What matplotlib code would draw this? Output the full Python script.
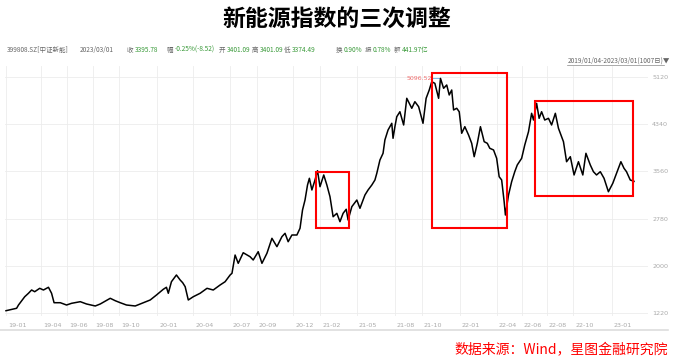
import matplotlib
matplotlib.use("Agg")
import matplotlib.pyplot as plt
from matplotlib.patches import Rectangle
from matplotlib.lines import Line2D

plt.rcParams['font.family'] = ['Noto Sans CJK SC', 'DejaVu Sans']

# ---- data (trading-day index from 2019/01/04, index close) ----
day_idx = [0,17,20,30,36,41,46,54,60,68,
           73,77,87,97,105,119,129,143,151,167,
           175,183,193,207,215,231,241,252,257,260,
           265,273,279,283,287,292,300,311,322,332,
           343,351,359,362,367,372,380,391,396,404,
           410,418,426,434,442,447,452,458,466,471,
           475,479,483,486,490,495,499,503,509,514,
           519,524,530,535,540,545,548,554,562,567,
           575,580,586,591,594,599,604,607,612,618,
           620,623,626,631,637,642,650,655,661,668,
           673,678,682,687,693,696,701,706,710,714,
           717,722,726,730,735,741,746,750,755,760,
           766,771,775,781,786,790,794,798,800,805,
           810,815,819,826,831,837,842,845,850,854,
           858,863,869,874,880,885,893,898,904,910,
           917,924,929,936,941,946,952,958,965,972,
           978,985,990,994,1000,1006]
close = [1258,1298,1352,1489,1546,1600,1572,1628,1600,1645,
         1546,1390,1390,1352,1380,1407,1369,1336,1369,1463,
         1423,1390,1352,1336,1369,1435,1517,1612,1645,1546,
         1737,1848,1765,1721,1655,1435,1489,1546,1628,1600,
         1683,1737,1848,1876,2178,2041,2216,2150,2096,2233,
         2041,2207,2454,2316,2481,2537,2398,2509,2509,2620,
         2922,3087,3335,3446,3253,3418,3572,3307,3501,3335,
         3142,2811,2867,2729,2867,2934,2757,2977,3087,2950,
         3170,3253,3335,3418,3529,3748,3859,4081,4244,4355,
         4107,4299,4464,4546,4327,4768,4603,4712,4629,4355,
         4768,4905,5042,5015,4768,5096.52,4933,4988,4823,4905,
         4575,4603,4546,4190,4299,4161,4024,3803,4024,4299,
         4051,4024,3942,3914,3776,3472,3418,3059,2839,3170,
         3390,3555,3666,3776,3996,4216,4520,4409,4685,4437,
         4546,4409,4437,4327,4520,4272,4051,3720,3803,3501,
         3720,3501,3859,3666,3555,3501,3555,3446,3224,3363,
         3529,3720,3611,3555,3418,3395.78]

tick_idx = [0, 56, 98, 139, 181, 242, 300, 359, 402, 460, 503,
            562, 623, 666, 727, 786, 826, 866, 909, 970]
tick_labels = ['19-01', '19-04', '19-06', '19-08', '19-10', '20-01', '20-04',
               '20-07', '20-09', '20-12', '21-02', '21-05', '21-08', '21-10',
               '22-01', '22-04', '22-06', '22-08', '22-10', '23-01']
y_ticks = [1220, 2000, 2780, 3560, 4340, 5120]

# highlighted adjustment phases: (start idx, end idx, low, high)
box_start = [496, 682, 847]
box_end = [549, 802, 1005]
box_low = [2620, 2620, 3158]
box_high = [3550, 5181, 4728]

peak_value = 5096.52
peak_idx = 696

title = '新能源指数的三次调整'
source = '数据来源：Wind，星图金融研究院'
header_items = [('399808.SZ[中证新能]', None), ('2023/03/01', None),
                ('收', '3395.78'), ('幅', '-0.25%(-8.52)'), ('开', '3401.09'),
                ('高', '3401.09'), ('低', '3374.49'), ('换', '0.90%'),
                ('振', '0.78%'), ('额', '441.97亿')]
header_x = [7, 80, 127, 167, 219, 252, 284, 336, 365, 394]
date_range = '2019/01/04-2023/03/01(1007日)▼'

# ---- figure ----
W, H = 673, 362
fig = plt.figure(figsize=(W / 100, H / 100), dpi=100)
fig.patch.set_facecolor('white')

ax_l, ax_r, ax_t, ax_b = 5, 648, 66, 316
ax = fig.add_axes([ax_l / W, 1 - ax_b / H, (ax_r - ax_l) / W, (ax_b - ax_t) / H])
pxu = 628 / 1006.0
ax.set_xlim(-(6 - ax_l) / pxu, 1006 + (ax_r - 634) / pxu)
ax.set_ylim(1220 - 3 * 16.525, 1220 + (313 - ax_t) * 16.525)

ax.plot(day_idx, close, color='black', lw=1.1, zorder=3)

for s, e, lo, hi in zip(box_start, box_end, box_low, box_high):
    ax.add_patch(Rectangle((s, lo), e - s, hi - lo, fill=False,
                           edgecolor='#ff0000', lw=1.5, zorder=4))

ax.plot([peak_idx - 14, peak_idx], [peak_value, peak_value], color='#7fb6e6', lw=0.7, zorder=2)
ax.text(peak_idx - 14, peak_value, f'{peak_value:.2f}', color='#f07070',
        fontsize=4.5, ha='right', va='center', family='DejaVu Sans')

for sp in ax.spines.values():
    sp.set_visible(False)

ax.set_xticks(tick_idx)
ax.set_xticklabels([])
ax.set_yticks(y_ticks)
ax.yaxis.tick_right()
ax.tick_params(axis='y', length=0, pad=3, labelsize=4.6, labelcolor='#aaaaaa')
ax.tick_params(axis='x', length=0)
for lab in ax.get_yticklabels():
    lab.set_family('DejaVu Sans')
ax.grid(True, color='#ececec', lw=0.6)
for t, lab in zip(tick_idx, tick_labels):
    ax.annotate(lab, xy=(t, 0), xycoords=('data', 'axes fraction'),
                xytext=(1.5, -5), textcoords='offset points',
                ha='left', va='top', fontsize=4.6, color='#aaaaaa',
                family='DejaVu Sans', annotation_clip=False)

# title
fig.text(337 / W, 1 - 19 / H, title, ha='center', va='center',
         fontsize=16.5, fontweight='bold', color='black')

# header info row
for (lab, val), x in zip(header_items, header_x):
    fig.text(x / W, 1 - 50 / H, lab, ha='left', va='center',
             fontsize=4.7, color='#666666')
    if val is not None:
        fig.text((x + 7.5) / W, 1 - 50 / H, val, ha='left', va='center',
                 fontsize=4.7, color='#3a9a3a')

fig.text(670 / W, 1 - 61 / H, date_range, ha='right', va='center',
         fontsize=4.7, color='#666666')
fig.add_artist(Line2D([567 / W, 664 / W], [1 - 64.5 / H, 1 - 64.5 / H],
                      color='#888888', lw=0.5))

# bottom separator
fig.add_artist(Line2D([0, 668 / W], [1 - 330 / H, 1 - 330 / H],
                      color='#dddddd', lw=1.2))

# source
fig.text(668 / W, 1 - 350 / H, source, ha='right', va='center',
         fontsize=10, color='#ff0000', style='italic')

fig.savefig('out.png', dpi=100, facecolor='white')
